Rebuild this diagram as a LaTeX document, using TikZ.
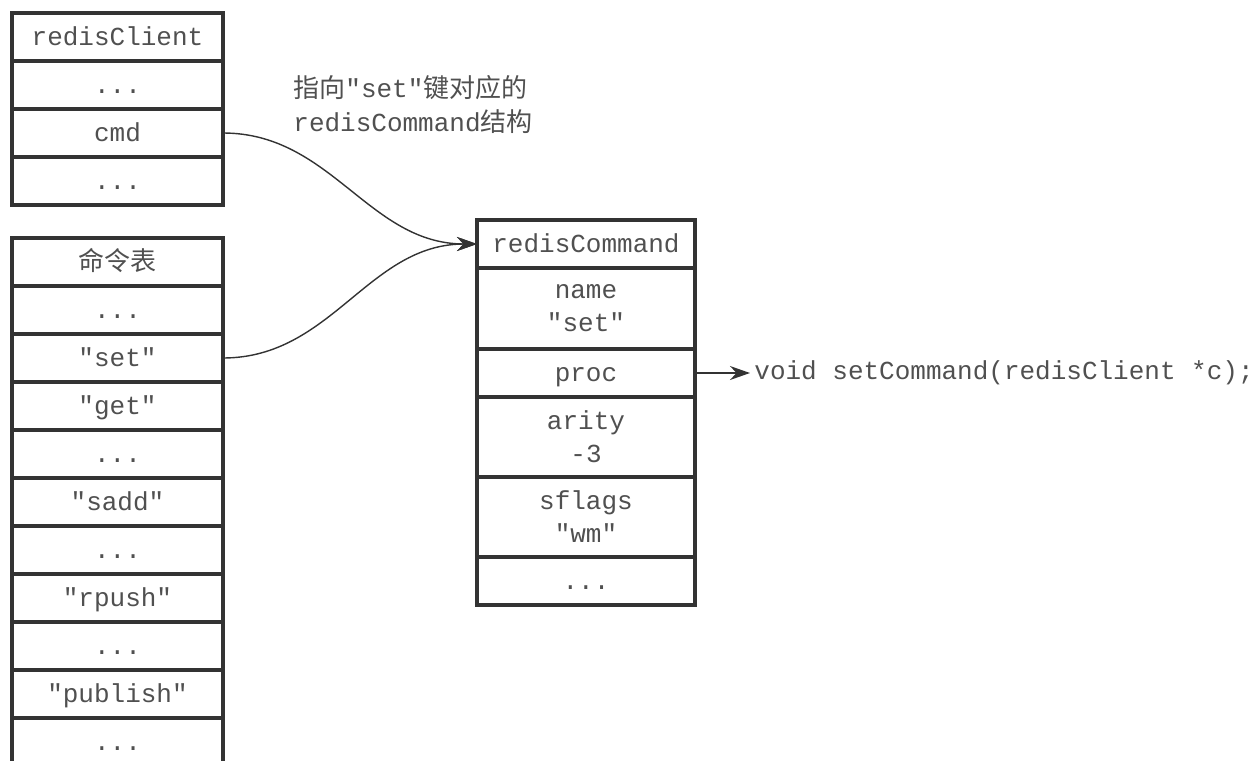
\documentclass[tikz,border=0pt]{standalone}
\usepackage{fontspec}
\setmonofont{Liberation Mono}
\newfontfamily\cjk{Noto Sans CJK SC}
\usetikzlibrary{positioning,arrows.meta}
\definecolor{linegray}{HTML}{333333}
\definecolor{textgray}{HTML}{505050}
\begin{document}
\begin{tikzpicture}[x=0.5pt,y=-0.5pt,node distance=0pt,
  cell/.style={draw=linegray,line width=1.7pt,outer sep=0pt,inner sep=0pt,
    minimum width=105.5pt,minimum height=24pt,text=textgray,
    text height=11.5pt,text depth=3pt,
    font=\ttfamily\fontsize{13}{16.5}\selectfont,align=center},
  wide/.style={cell,minimum width=109pt},
  tall/.style={wide,minimum height=40pt,text height=,text depth=},
  plain/.style={text=textgray,inner sep=0pt,font=\ttfamily\fontsize{13}{17}\selectfont},
  link/.style={draw=linegray,line width=0.7pt,-{Stealth[length=10pt,width=7pt]}}]
  \useasboundingbox (0,0) rectangle (1260,761);
  \node[cell,anchor=north west] (client) at (12,13) {redisClient};
  \node[cell,below=of client] (c1) {...};
  \node[cell,below=of c1] (cmd) {cmd};
  \node[cell,below=of cmd] (c2) {...};

  \node[cell,anchor=north west] (table) at (12,238) {{\cjk 命令表}};
  \node[cell,below=of table] (t1) {...};
  \node[cell,below=of t1] (set) {"set"};
  \node[cell,below=of set] (get) {"get"};
  \node[cell,below=of get] (t2) {...};
  \node[cell,below=of t2] (sadd) {"sadd"};
  \node[cell,below=of sadd] (t3) {...};
  \node[cell,below=of t3] (rpush) {"rpush"};
  \node[cell,below=of rpush] (t4) {...};
  \node[cell,below=of t4] (publish) {"publish"};
  \node[cell,below=of publish] (t5) {...};

  \node[wide,anchor=north west] (rc) at (477,220) {redisCommand};
  \node[tall,below=of rc,minimum height=40.5pt] (name) {name\\"set"};
  \node[wide,below=of name] (proc) {proc};
  \node[tall,below=of proc] (arity) {arity\\-3};
  \node[tall,below=of arity] (sflags) {sflags\\"wm"};
  \node[wide,below=of sflags] (r1) {...};

  \node[plain,anchor=west,align=left] (note) at (293,105)
    {{\cjk 指向}"set"{\cjk 键对应的}\\redisCommand{\cjk 结构}};
  \node[plain,right=27.5pt of proc,inner xsep=2pt] (fn) {void setCommand(redisClient *c);};

  \draw[link] (cmd.east) to[out=0,in=180] (rc.west);
  \draw[link] (set.east) to[out=0,in=180] (rc.west);
  \draw[link] (proc.east) -- (fn.west);
\end{tikzpicture}
\end{document}
